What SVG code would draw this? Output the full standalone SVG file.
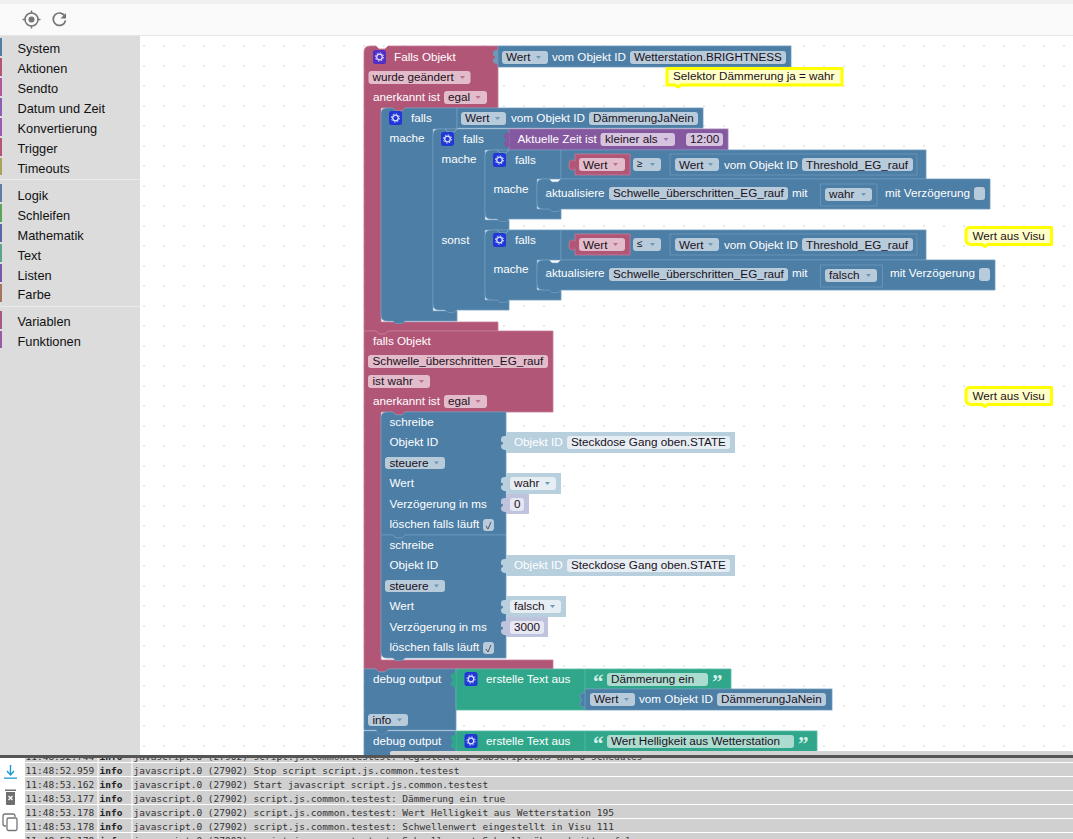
<svg xmlns="http://www.w3.org/2000/svg" width="1073" height="839" viewBox="0 0 1073 839">
<style>
text{font-family:"Liberation Sans",Arial,sans-serif;font-size:11.7px;white-space:pre}
.w{fill:#fff}.d{fill:#1c1020}
.side{font-size:12.8px;fill:#111}
.log{font-family:"DejaVu Sans Mono","Liberation Mono",monospace;font-size:9.5px;fill:#333}
.logb{font-family:"DejaVu Sans Mono","Liberation Mono",monospace;font-size:9.5px;font-weight:bold;fill:#222}
.q{font-family:"Liberation Serif",serif;font-size:21px;font-weight:bold;fill:#d6efe8}
.pk{fill:#b25678;stroke:#c47c97;stroke-width:.8}
.bl{fill:#4c7ea6;stroke:#6f9abe;stroke-width:.8}
.pu{fill:#85599f;stroke:#9d79b2;stroke-width:.8}
.gr{fill:#30a78b;stroke:#59b9a2;stroke-width:.8}
.nt{fill:none;stroke:#8fb2cd;stroke-width:.8}
.lb{fill:#b8cfde}.lv{fill:#bfc3de}
.fb{fill:#b7cbdb}.fp{fill:#e3bccb}.fu{fill:#d5c3e0}.fg{fill:#acdccf}.fl{fill:#e6eef4}.fv{fill:#e6e7f2}
.cm{fill:#ffffc7;stroke:#ffff00;stroke-width:3;stroke-linejoin:round}
.ab{fill:#6f98b8}.ap{fill:#b8708f}
.ck{fill:#b7cbdb}
.sep{fill:#fff}
</style>
<defs>
<pattern id="dots" patternUnits="userSpaceOnUse" x="134" y="36" width="20" height="20"><circle cx="10" cy="10" r="1" fill="#e2e2e2"/></pattern>
<clipPath id="logclip"><rect x="0" y="758" width="1073" height="81"/></clipPath>
<path id="arr" d="M0 0h5l-2.500 3z"/>
<path id="tab" d="M0 2c-4 0-5 .5-5 4s2 1 2 3-2 1-2 3 1 4 5 4z"/>
<g id="gearB"><rect x="-6.500" y="-7" width="13" height="14" rx="2.500" fill="#2238d6"/><circle r="2.800" fill="none" stroke="#dfe6ff" stroke-width="1.300"/><circle r="4.100" fill="none" stroke="#dfe6ff" stroke-width="1" stroke-dasharray="1.500 1.700"/></g>
<g id="gearP"><rect x="-6.500" y="-7" width="13" height="14" rx="2.500" fill="#4f2fc4"/><circle r="2.800" fill="none" stroke="#e6e0ff" stroke-width="1.300"/><circle r="4.100" fill="none" stroke="#e6e0ff" stroke-width="1" stroke-dasharray="1.500 1.700"/></g>
</defs>

<g id="toolbar">
<rect width="1073" height="36" fill="#fafafa"/>
<rect width="1073" height="4" fill="#f0f0f0"/>
<rect y="35" width="1073" height="1.500" fill="#e6e6e6"/>
<circle cx="31.500" cy="19.500" r="6.500" fill="none" stroke="#757575" stroke-width="1.500"/>
<circle cx="31.500" cy="19.500" r="3" fill="#757575"/>
<path d="M31.500 10.500v3M31.500 25.500v3M22.500 19.500h3M37.500 19.500h3" stroke="#757575" stroke-width="1.500"/>
<path d="M65 16.500a6.200 6.200 0 1 0 .5 4" fill="none" stroke="#757575" stroke-width="1.700"/>
<path d="M66 13v5.500h-5.500z" fill="#757575"/>
</g>

<g id="sidebar">
<rect y="36" width="140" height="719" fill="#dcdcdc"/>
<rect y="179" width="140" height="1" fill="#eaeaea"/>
<rect y="306" width="140" height="1" fill="#eaeaea"/>
<rect y="38" width="2" height="18" fill="#4c7ea6"/><text class="side" x="17.500" y="53">System</text>
<rect y="58" width="2" height="18" fill="#b25678"/><text class="side" x="17.500" y="73">Aktionen</text>
<rect y="78" width="2" height="18" fill="#b3569a"/><text class="side" x="17.500" y="93">Sendto</text>
<rect y="98" width="2" height="18" fill="#8d5fb0"/><text class="side" x="17.500" y="113">Datum und Zeit</text>
<rect y="118" width="2" height="18" fill="#9a5bb0"/><text class="side" x="17.500" y="133">Konvertierung</text>
<rect y="138" width="2" height="18" fill="#b3567a"/><text class="side" x="17.500" y="153">Trigger</text>
<rect y="158" width="2" height="17" fill="#a5a55e"/><text class="side" x="17.500" y="173">Timeouts</text>
<rect y="184" width="2" height="18" fill="#5b80a5"/><text class="side" x="17.500" y="200">Logik</text>
<rect y="204" width="2" height="18" fill="#5ba55b"/><text class="side" x="17.500" y="220">Schleifen</text>
<rect y="224" width="2" height="18" fill="#5b67a5"/><text class="side" x="17.500" y="240">Mathematik</text>
<rect y="244" width="2" height="18" fill="#5ba58c"/><text class="side" x="17.500" y="260">Text</text>
<rect y="264" width="2" height="18" fill="#745ba5"/><text class="side" x="17.500" y="280">Listen</text>
<rect y="284" width="2" height="18" fill="#a5745b"/><text class="side" x="17.500" y="299">Farbe</text>
<rect y="311" width="2" height="18" fill="#a55b80"/><text class="side" x="17.500" y="326">Variablen</text>
<rect y="331" width="2" height="17" fill="#995ba5"/><text class="side" x="17.500" y="346">Funktionen</text>
</g>

<rect id="canvas" x="140" y="36" width="933" height="719" fill="#fff"/>
<rect x="140" y="36" width="933" height="719" fill="url(#dots)"/>

<g id="trigger1">
<path class="pk" d="M364 52q0-6 6-6h6l3 3h6l3-3H498V108H405l-3 3h-6l-3-3H381V322H498V331H388l-3 3h-6l-3-3H364Z"/>
<use href="#gearP" x="379.500" y="57"/>
<text class="w" x="394" y="61">Falls Objekt</text>
<rect class="fp" x="368.500" y="71" width="102" height="13" rx="3"/><text class="d" x="372.500" y="81">wurde geändert</text><use href="#arr" class="ap" x="460" y="76"/>
<text class="w" x="373" y="101">anerkannt ist</text>
<rect class="fp" x="444" y="91" width="43" height="13" rx="3"/><text class="d" x="448" y="101">egal</text><use href="#arr" class="ap" x="475.500" y="96"/>
</g>
<g id="value-brightness">
<rect class="bl" x="498" y="46" width="293" height="21"/>
<use href="#tab" class="ab" x="498" y="48"/>
<rect class="fb" x="502" y="51" width="46" height="13" rx="3"/><text class="d" x="506" y="61">Wert</text><use href="#arr" class="ab" x="536" y="56"/>
<text class="w" x="552" y="61">vom Objekt ID</text>
<rect class="fb" x="630" y="51" width="156" height="13" rx="3"/><text class="d" x="634" y="61">Wetterstation.BRIGHTNESS</text>
</g>
<g id="comment-daemmerung">
<path class="cm" d="M667 68.500H842V85H681l-3 2-3-2H667Z"/>
<text class="d" x="673" y="80">Selektor Dämmerung ja = wahr</text>
</g>

<g id="falls1">
<path class="bl" d="M387 108H393l3 3h6l3-3H457V129H433V311H457V321H405l-3 2.500h-6l-3-2.500H387Q381 321 381 315V114Q381 108 387 108Z"/>
<use href="#gearB" x="395.500" y="118"/>
<text class="w" x="411" y="122">falls</text>
<text class="w" x="389.500" y="142">mache</text>
</g>
<g id="value-daemmerung">
<rect class="bl" x="457" y="108" width="246" height="20"/>
<rect class="fb" x="461" y="112" width="45" height="13" rx="3"/><text class="d" x="465" y="122">Wert</text><use href="#arr" class="ab" x="495" y="117"/>
<text class="w" x="511" y="122">vom Objekt ID</text>
<rect class="fb" x="589" y="112" width="109" height="13" rx="3"/><text class="d" x="593" y="122">DämmerungJaNein</text>
</g>
<g id="falls2">
<path class="bl" d="M439 129H509V150H485V220H509V230H485V300H509V310H457l-3 2.500h-6l-3-2.500H439Q433 310 433 304V135Q433 129 439 129Z"/>
<path class="nt" d="M445 129l3 3h6l3-3"/>
<use href="#gearB" x="447.500" y="139"/>
<text class="w" x="463" y="143">falls</text>
<text class="w" x="441.500" y="163">mache</text>
<text class="w" x="441.500" y="244">sonst</text>
</g>
<g id="value-zeit">
<rect class="pu" x="509" y="129" width="219" height="21"/>
<use href="#tab" fill="#85599f" x="509" y="131"/>
<text class="w" x="517.500" y="143">Aktuelle Zeit ist</text>
<rect class="fu" x="600.500" y="133" width="74.500" height="13" rx="3"/><text class="d" x="605" y="143">kleiner als</text><use href="#arr" fill="#9d79b2" x="663.500" y="138"/>
<rect class="fu" x="686" y="133" width="37" height="13" rx="3"/><text class="d" x="690" y="143">12:00</text>
</g>

<g id="falls3a">
<path class="bl" d="M491 150H561V179H537V209H561V219H509l-3 2.500h-6l-3-2.500H491Q485 219 485 213V156Q485 150 491 150Z"/>
<path class="nt" d="M497 150l3 3h6l3-3"/>
<use href="#gearB" x="499.500" y="160"/>
<text class="w" x="515" y="164">falls</text>
<text class="w" x="493.500" y="193">mache</text>
</g>
<g id="compare-a">
<rect class="bl" x="561" y="150" width="365" height="29"/>
<path class="pk" d="M575 154H630V175H575V169c-4 2-6 1-6-4s2-6 6-4Z" stroke="#d693ab"/>
<rect class="fp" x="579" y="158" width="46" height="13" rx="3"/><text class="d" x="583" y="169">Wert</text><use href="#arr" class="ap" x="613" y="163"/>
<rect class="fb" x="633" y="158" width="28" height="13" rx="3"/><text class="d" x="637" y="167" style="font-size:10px">≥</text><use href="#arr" class="ab" x="650" y="163"/>
<rect class="bl" x="670" y="154" width="247" height="21"/>
<rect class="fb" x="675" y="158" width="44" height="13" rx="3"/><text class="d" x="679" y="169">Wert</text><use href="#arr" class="ab" x="708" y="163"/>
<text class="w" x="724" y="169">vom Objekt ID</text>
<rect class="fb" x="802" y="158" width="111" height="13" rx="3"/><text class="d" x="806" y="169">Threshold_EG_rauf</text>
</g>
<g id="update-a">
<path class="bl" d="M543 179H549l3 3h6l3-3H990V209H561l-3 2.500h-6l-3-2.500H543q-6 0-6-6V185q0-6 6-6Z"/>
<text class="w" x="545.500" y="197">aktualisiere</text>
<rect class="fb" x="609" y="187" width="179" height="13" rx="3"/><text class="d" x="613" y="197">Schwelle_überschritten_EG_rauf</text>
<text class="w" x="792" y="197">mit</text>
<rect class="bl" x="820.500" y="184" width="56.500" height="22"/>
<rect class="fb" x="825" y="188" width="47" height="13" rx="3"/><text class="d" x="829" y="198">wahr</text><use href="#arr" class="ab" x="861" y="193"/>
<text class="w" x="885" y="197">mit Verzögerung</text>
<rect class="ck" x="974" y="187" width="11" height="13" rx="3"/>
</g>

<g id="falls3b">
<path class="bl" d="M491 230H561V260H537V290H561V300H509l-3 2.500h-6l-3-2.500H491Q485 300 485 294V236Q485 230 491 230Z"/>
<path class="nt" d="M497 230l3 3h6l3-3"/>
<use href="#gearB" x="499.500" y="240"/>
<text class="w" x="515" y="244">falls</text>
<text class="w" x="493.500" y="273">mache</text>
</g>
<g id="compare-b">
<rect class="bl" x="561" y="230" width="365" height="30"/>
<path class="pk" d="M575 234H630V255H575V249c-4 2-6 1-6-4s2-6 6-4Z" stroke="#d693ab"/>
<rect class="fp" x="579" y="238" width="46" height="13" rx="3"/><text class="d" x="583" y="249">Wert</text><use href="#arr" class="ap" x="613" y="243"/>
<rect class="fb" x="633" y="238" width="28" height="13" rx="3"/><text class="d" x="637" y="247" style="font-size:10px">≤</text><use href="#arr" class="ab" x="650" y="243"/>
<rect class="bl" x="670" y="234" width="247" height="21"/>
<rect class="fb" x="675" y="238" width="44" height="13" rx="3"/><text class="d" x="679" y="249">Wert</text><use href="#arr" class="ab" x="708" y="243"/>
<text class="w" x="724" y="249">vom Objekt ID</text>
<rect class="fb" x="802" y="238" width="111" height="13" rx="3"/><text class="d" x="806" y="249">Threshold_EG_rauf</text>
</g>
<g id="update-b">
<path class="bl" d="M543 260H549l3 3h6l3-3H995V290H561l-3 2.500h-6l-3-2.500H543q-6 0-6-6V266q0-6 6-6Z"/>
<text class="w" x="545.500" y="277">aktualisiere</text>
<rect class="fb" x="609" y="268" width="179" height="13" rx="3"/><text class="d" x="613" y="278">Schwelle_überschritten_EG_rauf</text>
<text class="w" x="792" y="277">mit</text>
<rect class="bl" x="820.500" y="265" width="62" height="22"/>
<rect class="fb" x="825" y="269" width="52" height="13" rx="3"/><text class="d" x="829" y="279">falsch</text><use href="#arr" class="ab" x="866" y="274"/>
<text class="w" x="890" y="277">mit Verzögerung</text>
<rect class="ck" x="979" y="268" width="11" height="13" rx="3"/>
</g>
<g id="comment-visu1">
<path class="cm" d="M970 227.500H1051.500V244.500H988l-3 2-3-2H971q-5 0-5-5V232q0-4.500 4-4.500Z"/>
<text class="d" x="972.500" y="239.500">Wert aus Visu</text>
</g>

<g id="trigger2">
<path class="pk" d="M364 331H376l3 3h6l3-3H553V412H405l-3 3h-6l-3-3H381V535V660H553V669H388l-3 3h-6l-3-3H364Z"/>
<text class="w" x="373" y="345">falls Objekt</text>
<rect class="fp" x="368" y="355" width="180" height="13" rx="3"/><text class="d" x="372.500" y="365">Schwelle_überschritten_EG_rauf</text>
<rect class="fp" x="368" y="375" width="62" height="13" rx="3"/><text class="d" x="372.500" y="385">ist wahr</text><use href="#arr" class="ap" x="419" y="380"/>
<text class="w" x="373" y="405">anerkannt ist</text>
<rect class="fp" x="444" y="395" width="43" height="13" rx="3"/><text class="d" x="448" y="405">egal</text><use href="#arr" class="ap" x="475.500" y="400"/>
</g>
<g id="comment-visu2">
<path class="cm" d="M970 387.500H1051.500V404.500H988l-3 2-3-2H971q-5 0-5-5V392q0-4.500 4-4.500Z"/>
<text class="d" x="972.500" y="399.500">Wert aus Visu</text>
</g>

<g id="write1">
<path class="bl" d="M387 412H393l3 3h6l3-3H506V535H405l-3 3h-6l-3-3H381V418q0-6 6-6Z"/>
<text class="w" x="389.500" y="426">schreibe</text>
<text class="w" x="389.500" y="446">Objekt ID</text>
<rect class="fb" x="385" y="457" width="60" height="12" rx="3"/><text class="d" x="389.500" y="467">steuere</text><use href="#arr" class="ab" x="434" y="461.500"/>
<text class="w" x="389.500" y="487">Wert</text>
<text class="w" x="389.500" y="508">Verzögerung in ms</text>
<text class="w" x="389.500" y="528">löschen falls läuft</text>
<rect class="ck" x="483" y="519" width="11" height="12" rx="3"/><path d="M486 526l2 3 3-7" fill="none" stroke="#556" stroke-width="1"/>
</g>
<g id="write1-id"><rect class="lb" x="506" y="432" width="229" height="21"/><use href="#tab" class="lb" x="506" y="434"/>
<text class="w" x="514" y="446">Objekt ID</text>
<rect class="fl" x="567" y="436" width="163" height="13" rx="3"/><text class="d" x="571" y="446">Steckdose Gang oben.STATE</text></g>
<g id="write1-val"><rect class="lb" x="506" y="473" width="55" height="21"/><use href="#tab" class="lb" x="506" y="475"/>
<rect class="fl" x="510" y="477" width="46" height="13" rx="3"/><text class="d" x="514" y="487">wahr</text><use href="#arr" class="ab" x="545" y="482"/></g>
<g id="write1-delay"><rect class="lv" x="506" y="494" width="23" height="20"/><use href="#tab" class="lv" x="506" y="496"/>
<rect class="fv" x="510" y="498" width="14" height="13" rx="3"/><text class="d" x="514" y="508">0</text></g>

<g id="write2">
<path class="bl" d="M381 535H393l3 3h6l3-3H506V658H405l-3 2.500h-6l-3-2.500H387q-6 0-6-6Z"/>
<text class="w" x="389.500" y="549">schreibe</text>
<text class="w" x="389.500" y="569">Objekt ID</text>
<rect class="fb" x="385" y="580" width="60" height="12" rx="3"/><text class="d" x="389.500" y="590">steuere</text><use href="#arr" class="ab" x="434" y="584.500"/>
<text class="w" x="389.500" y="610">Wert</text>
<text class="w" x="389.500" y="631">Verzögerung in ms</text>
<text class="w" x="389.500" y="651">löschen falls läuft</text>
<rect class="ck" x="483" y="642" width="11" height="12" rx="3"/><path d="M486 649l2 3 3-7" fill="none" stroke="#556" stroke-width="1"/>
</g>
<g id="write2-id"><rect class="lb" x="506" y="555" width="229" height="21"/><use href="#tab" class="lb" x="506" y="557"/>
<text class="w" x="514" y="569">Objekt ID</text>
<rect class="fl" x="567" y="559" width="163" height="13" rx="3"/><text class="d" x="571" y="569">Steckdose Gang oben.STATE</text></g>
<g id="write2-val"><rect class="lb" x="506" y="596" width="60" height="21"/><use href="#tab" class="lb" x="506" y="598"/>
<rect class="fl" x="510" y="600" width="51" height="13" rx="3"/><text class="d" x="514" y="610">falsch</text><use href="#arr" class="ab" x="550" y="605"/></g>
<g id="write2-delay"><rect class="lv" x="506" y="617" width="42" height="20"/><use href="#tab" class="lv" x="506" y="619"/>
<rect class="fv" x="510" y="621" width="34" height="13" rx="3"/><text class="d" x="514" y="631">3000</text></g>

<g id="debug1">
<path class="bl" d="M364 669H376l3 3h6l3-3H456V730H388l-3 3h-6l-3-3H364Z"/>
<text class="w" x="373" y="683">debug output</text>
<rect class="fb" x="368" y="714" width="40" height="12" rx="3"/><text class="d" x="372.500" y="724">info</text><use href="#arr" class="ab" x="397" y="718.500"/>
</g>
<g id="text1">
<path class="gr" d="M456 669H731V689H585V710H456Z"/>
<use href="#tab" fill="#30a78b" x="456" y="671"/>
<use href="#gearB" x="471" y="679"/>
<text class="w" x="486" y="683">erstelle Text aus</text>
<text class="q" x="593" y="689">“</text>
<rect class="fg" x="607" y="673" width="101" height="13" rx="3"/><text class="d" x="611" y="683">Dämmerung ein</text>
<text class="q" x="712" y="689">”</text>
<path d="M585 669V689" stroke="#59b9a2" stroke-width=".8"/>
</g>
<g id="value-daemmerung2">
<rect class="bl" x="585" y="689" width="247" height="21"/>
<use href="#tab" class="bl" x="585" y="691"/>
<rect class="fb" x="590" y="693" width="45" height="13" rx="3"/><text class="d" x="594" y="703">Wert</text><use href="#arr" class="ab" x="624" y="698"/>
<text class="w" x="639" y="703">vom Objekt ID</text>
<rect class="fb" x="717" y="693" width="109" height="13" rx="3"/><text class="d" x="721" y="703">DämmerungJaNein</text>
</g>
<g id="debug2">
<path class="bl" d="M364 731H376l3 3h6l3-3H456V756H364Z"/>
<path d="M376 731l3 3h6l3-3" fill="#4c7ea6"/>
<text class="w" x="373" y="745">debug output</text>
</g>
<g id="text2">
<rect class="gr" x="456" y="731" width="361" height="21"/>
<use href="#tab" fill="#30a78b" x="456" y="733"/>
<use href="#gearB" x="471" y="741"/>
<text class="w" x="486" y="745">erstelle Text aus</text>
<path d="M585 731V751" stroke="#59b9a2" stroke-width=".8"/>
<text class="q" x="593" y="751">“</text>
<rect class="fg" x="607" y="735" width="187" height="13" rx="3"/><text class="d" x="611" y="745">Wert Helligkeit aus Wetterstation</text>
<text class="q" x="798" y="751">”</text>
</g>
<rect id="scrollbar" x="390" y="751" width="683" height="5" rx="2" fill="#d4d4d4"/>

<g id="log">
<rect y="755" width="1073" height="84" fill="#fff"/>
<rect x="25" y="758" width="1048" height="81" fill="#d0d0d0"/>
<g class="sep">
<rect x="25" y="762" width="1048" height="1"/><rect x="25" y="776" width="1048" height="1"/><rect x="25" y="790" width="1048" height="1"/><rect x="25" y="804" width="1048" height="1"/><rect x="25" y="818" width="1048" height="1"/><rect x="25" y="832" width="1048" height="1"/>
<rect x="97.500" y="758" width="1" height="81"/><rect x="131.500" y="758" width="1" height="81"/>
</g>
<g clip-path="url(#logclip)">
<text class="log" x="25.500" y="760">11:48:52.744</text><text class="logb" x="99.500" y="760">info</text><text class="log" x="133.500" y="760">javascript.0 (27902) script.js.common.testest: registered 2 subscriptions and 0 schedules</text>
<text class="log" x="25.500" y="774">11:48:52.959</text><text class="logb" x="99.500" y="774">info</text><text class="log" x="133.500" y="774">javascript.0 (27902) Stop script script.js.common.testest</text>
<text class="log" x="25.500" y="788">11:48:53.162</text><text class="logb" x="99.500" y="788">info</text><text class="log" x="133.500" y="788">javascript.0 (27902) Start javascript script.js.common.testest</text>
<text class="log" x="25.500" y="802">11:48:53.177</text><text class="logb" x="99.500" y="802">info</text><text class="log" x="133.500" y="802">javascript.0 (27902) script.js.common.testest: Dämmerung ein true</text>
<text class="log" x="25.500" y="816">11:48:53.178</text><text class="logb" x="99.500" y="816">info</text><text class="log" x="133.500" y="816">javascript.0 (27902) script.js.common.testest: Wert Helligkeit aus Wetterstation 195</text>
<text class="log" x="25.500" y="830">11:48:53.178</text><text class="logb" x="99.500" y="830">info</text><text class="log" x="133.500" y="830">javascript.0 (27902) script.js.common.testest: Schwellenwert eingestellt in Visu 111</text>
<text class="log" x="25.500" y="844">11:48:53.179</text><text class="logb" x="99.500" y="844">info</text><text class="log" x="133.500" y="844">javascript.0 (27902) script.js.common.testest: Schwellenwert Schwelle überschritten false</text>
</g>
<rect y="755" width="1073" height="3" fill="#555"/>
<path d="M10.500 765v9M7 771l3.500 4 3.500-4" fill="none" stroke="#1e9ad6" stroke-width="1.400"/><rect x="4" y="777.500" width="13" height="1.300" fill="#1e9ad6"/>
<path d="M6 792h9v12q0 1-1 1H7q-1 0-1-1Z" fill="#6f6f6f"/><rect x="5" y="789.500" width="11" height="1.500" fill="#6f6f6f"/><path d="M8.500 796l4 4m0-4l-4 4" stroke="#fff" stroke-width="1.300"/>
<path d="M6 826h-1q-2 0-2-2V816q0-2 2-2h8q2 0 2 2v1" fill="none" stroke="#757575" stroke-width="1.300"/><rect x="7" y="818" width="10" height="12.500" rx="1.500" fill="#fff" stroke="#757575" stroke-width="1.300"/>
</g>
</svg>
